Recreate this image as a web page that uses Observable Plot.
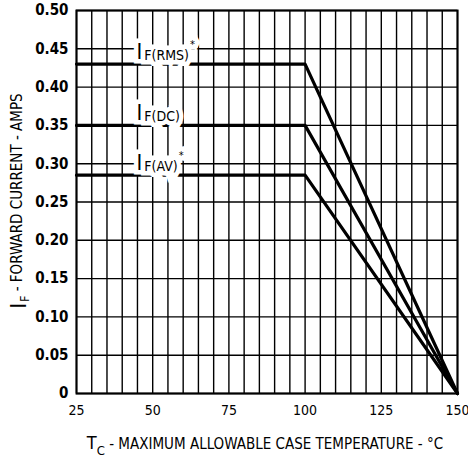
<!DOCTYPE html>
<html>
<head>
<meta charset="utf-8">
<script src="https://cdn.jsdelivr.net/npm/d3@7"></script>
<script src="https://cdn.jsdelivr.net/npm/@observablehq/plot@0.6"></script>
<style>
  html, body { margin: 0; padding: 0; background: white; }
  #chart { width: 468px; height: 459px; }
</style>
</head>
<body>
<div id="chart"></div>
<script>
// Derating curves: forward current vs. maximum allowable case temperature
const temps = [25, 100, 150];
const rmsCurrent = [0.43, 0.43, 0];
const dcCurrent = [0.35, 0.35, 0];
const avCurrent = [0.285, 0.285, 0];

const seriesNames = ["RMS", "DC", "AV"];
const seriesValues = [rmsCurrent, dcCurrent, avCurrent];
const labelSubs = ["F(RMS)", "F(DC)", "F(AV)"];
const labelStars = ["*", "", "*"];
const labelTemp = 45;

const xTicks = [25, 50, 75, 100, 125, 150];
const yTicks = [0, 0.05, 0.10, 0.15, 0.20, 0.25, 0.30, 0.35, 0.40, 0.45, 0.50];
const yTickLabels = ["0", "0.05", "0.10", "0.15", "0.20", "0.25", "0.30", "0.35", "0.40", "0.45", "0.50"];
const xGrid = d3.range(25, 151, 5);

const FONT = "'Liberation Sans Narrow', 'DejaVu Sans Condensed', sans-serif";

const curves = seriesNames.flatMap((name, i) =>
  temps.map((t, j) => ({series: name, temp: t, current: seriesValues[i][j]}))
);
const labels = seriesNames.map((name, i) => ({
  series: name, temp: labelTemp, current: seriesValues[i][0], sub: labelSubs[i], star: labelStars[i]
}));

const chart = Plot.plot({
  width: 468,
  height: 459,
  marginLeft: 76,
  marginRight: 11,
  marginTop: 10,
  marginBottom: 66,
  style: {fontFamily: FONT, fontSize: "15px", background: "white", color: "black", overflow: "visible"},
  x: {domain: [25, 150]},
  y: {domain: [0, 0.5]},
  marks: [
    Plot.ruleX(xGrid, {stroke: "black", strokeWidth: 1.4}),
    Plot.ruleY(yTicks, {stroke: "black", strokeWidth: 1.4}),
    Plot.frame({stroke: "black", strokeWidth: 2}),
    Plot.line(curves, {x: "temp", y: "current", z: "series", stroke: "black", strokeWidth: 3.2}),
    Plot.text(labels, {
      x: "temp", y: "current", text: d => "I" + d.sub + d.star,
      textAnchor: "start", lineAnchor: "bottom", dx: -1, dy: -5,
      fill: "black", stroke: "white", strokeWidth: 9, strokeLinejoin: "miter",
      fontSize: 13, className: "curve-label"
    }),
    Plot.axisX(xTicks, {tickSize: 0, tickPadding: 12, fontSize: 14, label: null}),
    Plot.axisY(yTicks, {
      tickSize: 0, tickPadding: 8, fontSize: 15, fontWeight: "bold", label: null,
      tickFormat: d => yTickLabels[yTicks.indexOf(d)]
    })
  ]
});

// Curve labels: large "I", subscript, optional asterisk
d3.select(chart).selectAll("g.curve-label text").each(function (d, i) {
  const lab = labels[i];
  const t = d3.select(this);
  t.text(null);
  t.append("tspan").attr("font-size", 22).attr("dy", "0").text("I");
  t.append("tspan").attr("font-size", 14).attr("dx", 2).attr("dy", 1).text(lab.sub);
  if (lab.star) t.append("tspan").attr("font-size", 11).attr("dx", 1).attr("dy", -12).text(lab.star);
});

const svg = d3.select(chart);

// y-axis title
const yt = svg.append("text")
  .attr("transform", "translate(22,201) rotate(-90)")
  .attr("text-anchor", "middle")
  .attr("font-family", FONT)
  .attr("font-size", 15)
  .attr("fill", "black");
yt.append("tspan").attr("font-size", 22).attr("dy", 4).text("I");
yt.append("tspan").attr("font-size", 12).attr("dy", 3).attr("dx", 1).text("F");
yt.append("tspan").attr("dy", -7).text(" - FORWARD CURRENT - AMPS");

// x-axis title
const xt = svg.append("text")
  .attr("x", 265)
  .attr("y", 449)
  .attr("text-anchor", "middle")
  .attr("font-family", FONT)
  .attr("font-size", 15)
  .attr("fill", "black");
xt.append("tspan").attr("font-size", 18).text("T");
xt.append("tspan").attr("font-size", 13).attr("dy", 6).text("C");
xt.append("tspan").attr("dy", -6).text(" - MAXIMUM ALLOWABLE CASE TEMPERATURE - °C");

document.getElementById("chart").appendChild(chart);
</script>
</body>
</html>
